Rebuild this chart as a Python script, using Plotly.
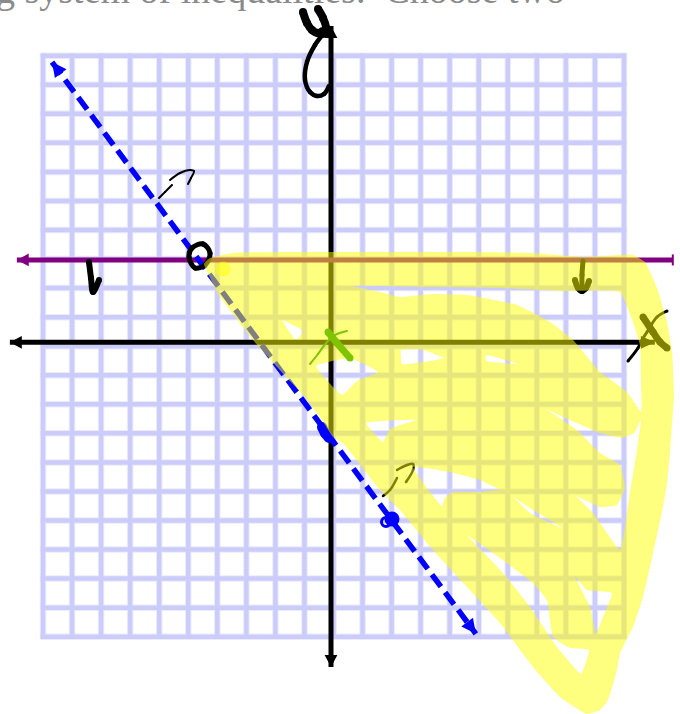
import plotly.graph_objects as go

# graph paper
grid_ticks = list(range(-10, 11))
grid_edge = 10.08

# ruled lines, in graph units
x_axis_y = 0.134
y_axis_x = -0.086
x_axis_ends = [-11.14, 11.06]
y_axis_ends = [-11.04, 11.02]
boundary_y = 2.97
boundary_ends = [-10.9, 11.68]
dashed_x = [-9.69, 4.9]
dashed_y = [9.78, -9.9]

# handwriting and highlighter (scan pixels)
letter_y_left = [(303, 12), (307, 23), (312, 30), (318, 33), (323, 31)]
letter_y_right = [(318, 9), (323, 18), (326, 28), (323, 34)]
letter_y_tail = [(324, 33), (315, 45), (307, 62), (305, 80), (310, 92), (317, 96), (324, 94), (329, 86)]
letter_x_thick = [(643, 317), (653, 332), (660, 342), (667, 348)]
letter_x_thin = [(667, 311), (657, 317), (647, 332), (642, 340), (638, 348), (628, 361)]
mark_one = [(89, 262), (91, 278), (93, 292), (99, 280)]
open_dot = [(203, 244), (210, 253), (205, 265), (195, 268), (189, 257), (192, 248), (203, 244)]
hook_a1 = [(159, 198), (165, 192), (172, 185)]
hook_a2 = [(170, 180), (180, 173), (190, 170), (194, 171), (191, 178), (188, 184)]
hook_b1 = [(383, 496), (390, 490), (397, 478)]
hook_b2 = [(397, 470), (407, 465), (413, 464), (413, 470), (406, 482)]
down_shaft = [(583, 261), (582, 275), (582, 290)]
down_head = [(575, 280), (578, 288), (582, 291), (586, 288), (589, 281)]
green_thick = [(328, 332), (337, 343), (350, 358)]
green_thin = [(310, 364), (318, 354), (327, 342), (335, 335), (347, 331)]
blue_blob = [(322, 427), (325, 433), (329, 438)]
blue_ring = [(386, 522)]
blue_dot = [(392, 519)]
yellow_dot = [(223, 269)]

shade_outline = [
    (204, 264), (210, 258), (233, 253), (290, 252), (330, 252), (400, 252), (467, 252), (533, 253),
    (583, 257), (620, 255), (633, 255), (645, 262), (657, 288), (667, 322), (672, 352), (674, 393),
    (670, 453), (667, 483), (663, 507), (650, 567), (643, 597), (633, 627), (620, 653), (617, 670),
    (608, 700), (600, 710), (587, 714), (560, 697), (533, 667), (500, 623), (467, 587), (433, 550),
    (400, 510), (380, 490), (343, 443), (333, 437), (327, 428), (322, 420), (303, 395), (290, 381),
    (253, 340), (219, 295),
]
shade_gaps = [
    [(282, 320), (303, 331), (296, 340)],
    [(316, 366), (350, 358), (378, 372), (357, 381), (342, 395)],
    [(366, 423), (416, 420), (390, 429), (383, 442)],
    [(353, 286), (420, 287), (500, 288), (560, 291), (620, 292), (633, 322), (640, 345), (641, 380),
     (641, 412), (627, 392), (600, 372), (573, 340), (550, 322), (517, 305), (467, 295),
     (433, 294), (400, 297), (380, 292)],
    [(486, 355), (518, 364), (486, 361)],
    [(401, 350), (423, 350), (444, 358), (402, 364)],
    [(495, 397), (540, 407), (600, 433), (622, 438), (634, 433), (641, 420), (637, 450), (630, 493),
     (620, 550), (593, 513), (576, 496), (600, 507), (617, 505), (625, 488), (620, 465), (600, 453),
     (577, 430), (543, 408)],
    [(413, 467), (450, 472), (480, 480), (510, 495), (530, 508), (564, 529), (530, 513), (513, 497),
     (500, 490), (480, 492), (453, 492), (445, 498), (442, 506)],
    [(468, 536), (503, 560), (533, 583), (547, 600), (550, 620), (553, 637), (570, 648), (589, 650),
     (581, 674), (557, 647), (530, 607), (503, 573)],
    [(574, 575), (587, 590), (612, 593), (603, 617), (596, 634), (590, 607)],
]

header_text = "g system of inequalities.&nbsp; Choose two"

BLACK = "#000000"
PURPLE = "#800080"
BLUE = "#0000ff"
GREEN = "#7fc400"

UNIT = 29.05
ORIGIN_X = 333.5
ORIGIN_Y = 346.2
W, H = 680, 714


def gx(px):
    return (px - ORIGIN_X) / UNIT


def gy(py):
    return (ORIGIN_Y - py) / UNIT


def line(fig, xs, ys, color, width, dash=None):
    fig.add_trace(go.Scatter(x=xs, y=ys, mode="lines", line=dict(color=color, width=width, dash=dash),
                             hoverinfo="skip", showlegend=False))


def ink(fig, pts, color, width):
    # round pen ends come from the markers
    fig.add_trace(go.Scatter(x=[gx(p[0]) for p in pts], y=[gy(p[1]) for p in pts], mode="lines+markers",
                             line=dict(color=color, width=width, shape="spline"),
                             marker=dict(color=color, size=width),
                             hoverinfo="skip", showlegend=False))


def blot(fig, pts, color, size, ring=None):
    fig.add_trace(go.Scatter(x=[gx(p[0]) for p in pts], y=[gy(p[1]) for p in pts], mode="markers",
                             marker=dict(color=color if ring is None else "rgba(0,0,0,0)", size=size,
                                         line=dict(color=color, width=ring or 0)),
                             hoverinfo="skip", showlegend=False))


def head(fig, tip_x, tip_y, back_x, back_y, color, half=0.22):
    # filled arrow head from the tip towards a point on the shaft
    dx, dy = back_x - tip_x, back_y - tip_y
    n = (dx * dx + dy * dy) ** 0.5
    ux, uy = -dy / n * half, dx / n * half
    xs = [tip_x, back_x + ux, back_x - ux, tip_x]
    ys = [tip_y, back_y + uy, back_y - uy, tip_y]
    fig.add_trace(go.Scatter(x=xs, y=ys, mode="lines", fill="toself", fillcolor=color,
                             line=dict(color=color, width=0), hoverinfo="skip", showlegend=False))


def area(pts):
    return sum(pts[i - 1][0] * pts[i][1] - pts[i][0] * pts[i - 1][1] for i in range(len(pts)))


def shade_path(outline, gaps):
    # gaps wound against the outline so the fill leaves them empty
    xs, ys = [], []
    sign = area(outline) > 0
    for i, poly in enumerate([outline] + gaps):
        pts = list(poly)
        if i > 0 and (area(pts) > 0) == sign:
            pts.reverse()
        pts.append(pts[0])
        xs += [gx(p[0]) for p in pts] + [None]
        ys += [gy(p[1]) for p in pts] + [None]
    return xs, ys


fig = go.Figure()

# graph paper, soft edge first
for color, width in (("#ebebfc", 6.5), ("#ccccfa", 4.5)):
    for t in grid_ticks:
        line(fig, [t, t], [-grid_edge, grid_edge], color, width)
        line(fig, [-grid_edge, grid_edge], [t, t], color, width)

# axes
line(fig, x_axis_ends, [x_axis_y, x_axis_y], BLACK, 5)
line(fig, [y_axis_x, y_axis_x], y_axis_ends, BLACK, 5)
head(fig, x_axis_ends[0], x_axis_y, x_axis_ends[0] + 0.41, x_axis_y, BLACK)
head(fig, x_axis_ends[1], x_axis_y, x_axis_ends[1] - 0.48, x_axis_y, BLACK)
head(fig, y_axis_x, y_axis_ends[1], y_axis_x, y_axis_ends[1] - 0.41, BLACK)
head(fig, y_axis_x, y_axis_ends[0], y_axis_x, y_axis_ends[0] + 0.41, BLACK)

# boundary lines
line(fig, boundary_ends, [boundary_y, boundary_y], PURPLE, 5)
head(fig, boundary_ends[0], boundary_y, boundary_ends[0] + 0.41, boundary_y, PURPLE)
line(fig, [boundary_ends[1], boundary_ends[1]], [boundary_y - 0.19, boundary_y + 0.19], PURPLE, 2)
line(fig, dashed_x, dashed_y, BLUE, 5.5, dash="15px,7px")
head(fig, dashed_x[0], dashed_y[0], dashed_x[0] + 0.3, dashed_y[0] - 0.4, BLUE, half=0.25)
head(fig, dashed_x[1], dashed_y[1], dashed_x[1] - 0.3, dashed_y[1] + 0.4, BLUE, half=0.25)
ink(fig, blue_blob, BLUE, 10)
blot(fig, blue_dot, BLUE, 15)
blot(fig, blue_ring, BLUE, 9, ring=3)

# pen marks
ink(fig, letter_y_left, BLACK, 8)
ink(fig, letter_y_right, BLACK, 8)
ink(fig, letter_y_tail, BLACK, 4.5)
ink(fig, letter_x_thick, BLACK, 7)
ink(fig, letter_x_thin, BLACK, 3)
ink(fig, mark_one, BLACK, 6)
ink(fig, open_dot, BLACK, 5)
ink(fig, hook_a1, BLACK, 2)
ink(fig, hook_a2, BLACK, 2)
ink(fig, hook_b1, BLACK, 2.5)
ink(fig, hook_b2, BLACK, 2.5)
ink(fig, down_shaft, BLACK, 5)
ink(fig, down_head, BLACK, 6)

# highlighter over everything drawn so far
shade_x, shade_y = shade_path(shade_outline, shade_gaps)
fig.add_trace(go.Scatter(x=shade_x, y=shade_y, mode="lines", fill="toself", fillcolor="rgba(255,255,0,0.5)",
                         line=dict(width=0, shape="spline", smoothing=0.35), hoverinfo="skip", showlegend=False))
blot(fig, yellow_dot, "rgba(255,255,0,0.5)", 15)

ink(fig, green_thick, GREEN, 7)
ink(fig, green_thin, GREEN, 2)

# the scan crops this line of text at the top edge
fig.add_annotation(xref="paper", yref="paper", x=0, y=1, xshift=-6, yshift=33, text=header_text, showarrow=False,
                   xanchor="left", yanchor="top", font=dict(family="Liberation Serif", size=38, color="#8a8a8a"))

fig.update_layout(
    width=W,
    height=H,
    margin=dict(l=0, r=0, t=0, b=0),
    paper_bgcolor="white",
    plot_bgcolor="white",
    showlegend=False,
    xaxis=dict(visible=False, range=[gx(0), gx(W)]),
    yaxis=dict(visible=False, range=[gy(H), gy(0)]),
)

fig.write_html("out.html", config=dict(displayModeBar=False),
               post_script="document.body.style.margin='0';document.body.style.overflow='hidden';")
